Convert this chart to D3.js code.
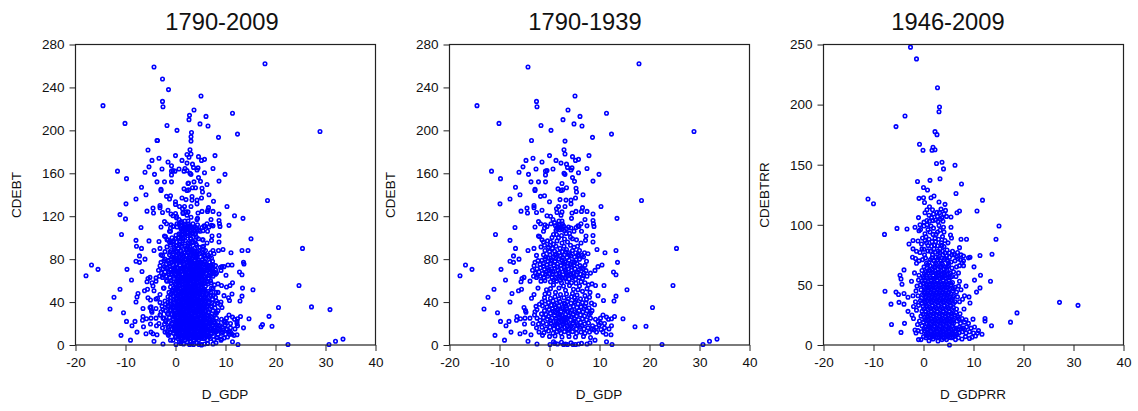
<!DOCTYPE html>
<html>
<head>
<meta charset="utf-8">
<script src="https://cdn.jsdelivr.net/npm/d3@7"></script>
<style>
body { margin: 0; background: white; }
text { font-family: "Liberation Sans", Arial, sans-serif; fill: #111; }
</style>
</head>
<body>
<svg id="drawing"></svg>
<script>
// d_gdp, cdebt
const earlyOutliers = [
[17.9,262],[-4.3,259],[5.1,232],[-14.5,223],[-2.6,227],[-2.5,222],[3.7,219],[11.4,216],[6.1,213],[2.7,210],
[-10.1,206.5],[4.9,206],[-1.7,204.5],[6.5,204],[0.3,200],[12.4,196.5],[28.9,199],[8.6,193.5],[-3.6,190.5],[3.1,190],
[2.9,182],[3.1,178],[7.9,176.5],[0,176.5],[4.6,175.5],[5.8,173],[5.2,172],[-3.3,174],[-4.7,172],[1.3,172],
[-1.5,170.5],[2.3,169.5],[3.4,168.5],[-5.3,166],[4.5,165],[7.5,164.5],[3.6,165.5],[0.7,164],[-2.7,164],[4.3,163],
[-0.8,162],[-0.5,162.5],[-11.6,162],[-6.1,161],[-4.2,159],[-0.8,158.5],[2.9,160],[3.1,159],[5.8,160.5],[9.9,159],
[4.6,156],[-9.8,155],[5,152.5],[8.7,152.7],[-3.7,152],[-2.2,152],[-0.8,152],[2.5,150.5],[-6.8,147],[3.4,146.5],
[5.3,146],[1.7,145.5],[2.3,144],[2.6,144.5],[-2.9,144],[-2.9,145],[5.4,142.5],[6.7,140],[-5.9,140],[-1.8,138.5],
[-1,139],[5.2,137],[-7.9,136],[2.1,135.5],[3.3,135],[4.3,135],[0,133.5],[-9.9,131.5],[4.3,131.5],[18.4,134.7],
[10.3,129],[-3.1,130],[-3.1,128],[3.1,129],[1.8,129],[6.6,128],[-4.5,127.5],[1.4,127],[-1.5,125.5],[-5.7,124.7],
[-4.4,123],[-2.6,123.5],[1.5,123.5],[2.5,124],[4.5,123],[5.3,124.5],[6.4,124.5],[7.5,124.5],[8.7,122],[-0.5,120.5],
[0.2,120],[2.3,121],[13.5,118],[4.4,118],[7.1,117],[8.7,116],[0.7,117],[-2.2,115],[2.5,115.5],[-1.8,113],
[6.3,113],[5.9,110.5],[-6.9,109.5],[-2.9,110],[8.8,113],[8.9,110.5],[7.5,111],[-0.5,110.5],[-10.8,103],[8.7,102],
[7.3,101.5],[-2.2,101.5],[-7.9,97.5],[8.7,96],[7.2,97.5],[-6.8,90],[-3.1,90],[9.5,89],[-4.3,88],[13.3,88],
[25.4,90],[11.1,86],[-2.6,83.5],[7.7,85],[-16.8,74.5],[-15.5,70.5],[-17.9,64.5],[-7.2,83],[-6.1,80],[-7.9,78],
[-7.2,77],[-2.9,77],[13.6,77],[10.5,74.5],[-9.7,70.5],[9.7,73],[9.1,69.5],[-6.7,68.5],[12.8,68],[13.3,65.5],
[8.2,67],[-5.1,63],[-5.5,62],[-8.8,60.5],[-5.7,59],[-3.9,59.5],[8.5,57],[9.2,55.5],[10.9,55.5],[24.7,55.5],
[-11.1,52],[15.5,51.5],[-5.6,52],[-6.2,50.5],[-2.3,53],[-7.5,48],[-12.3,44.5],[-3.6,43.5],[-3.1,47],[13.3,45.5],
[-7.9,40],[9.7,46],[12.9,41],[10.8,41.5],[20.6,35],[-13.1,33.5],[-5.1,35],[-10.4,30],[-4.7,30.5],[-4.8,32],
[-9.8,22],[-8.1,22],[-6.5,26.5],[-6.6,23],[-5.8,24.5],[-4.9,25],[-3.9,25],[13,26.5],[14.7,24.5],[17.1,17],
[19.3,17.5],[-8.7,18],[-7.7,12],[-5.9,10.5],[-4.9,12],[-10.9,9],[-5,19.5],[-3.7,9.5],[-9,4.5],[-4.3,3.5],
[-2.5,1],[11.4,3],[9.1,4.5],[12.5,0.5],[12.3,9.5],[12.4,18],[22.5,0.5],[30.7,0.5],[32,3.5],[33.5,5.5]
];

const earlyCore = [
[1.2,111],[1.5,108.5],[1.6,110],[1.9,112],[2.1,107.5],[2.3,110],[2.5,108],[2.8,111],[3,106.5],[1,114],
[1.9,115.5],[0.3,113],[-0.9,112],[-1,109],[3.8,110],[4.3,109],[5.3,109.5],[5.7,111],[4,104],[4.9,106],
[6.4,106],[1.4,103],[-1.2,106],[0.8,103],[2.4,102],[3.3,104],[-2,101],[-1.5,98],[-1.2,96],[-0.4,97],
[0.2,96],[0.8,94],[1.5,97],[2.5,95],[3.6,96],[4.6,99],[5.4,98],[6.3,95],[-1,93],[-0.2,91],
[0.6,90],[1.3,92],[2.1,90],[2.9,92],[3.4,89],[4.2,93],[4.9,91],[5.6,92],[-0.9,88],[0,87],
[1,87.5],[1.9,86],[2.6,87],[3.9,86],[4.6,88],[5.2,86],[6,88],[7,86],[6.5,83.5],[-1.2,84],
[-0.7,82],[0.1,84],[0.8,82],[1.4,84.5],[2.2,83],[3,84],[3.5,81.5],[4.3,83],[5,82],[5.7,84],
[-1.5,79],[-0.9,80],[-0.3,78],[0.5,79.5],[1.1,78],[1.8,80],[2.5,79],[3.1,77.5],[3.9,79],[4.6,77.5],
[5.3,79.5],[6,80],[6.8,82],[7.4,78],[-1.9,75],[-1.2,76],[-0.5,74.5],[0.2,76],[0.9,74],[1.6,75.5],
[2.3,74],[2.9,75.5],[3.6,73.5],[4.2,75],[4.9,74],[5.5,76],[-2.5,71],[-1.8,72],[-1,70.5],[-0.4,72],
[0.4,71],[1.1,71.5],[1.7,69.5],[2.4,71],[3.1,70],[3.8,71],[4.4,69.5],[5.1,71],[5.8,70],[6.4,72],
[-2.8,67],[-2.1,68],[-1.4,66.5],[-0.7,68],[0,66.5],[0.7,68],[1.4,66],[2,67.5],[2.7,65.5],[3.4,67],
[4,65.5],[4.7,67],[5.4,65.5],[6.2,66],[6.9,67],[7.5,64],[-2.6,63],[-1.9,64],[-1.1,62.5],[-0.4,64],
[0.5,63],[1.2,62],[1.8,64],[2.5,62.5],[3.2,63],[3.9,61.5],[4.6,63],[5.2,61],[5.9,63],[6.6,62],
[-1.7,59.5],[-0.9,60],[0.2,59],[1.4,59.5],[2.4,58],[3.5,59],[4.4,58],[5.3,57.5],[6.3,59],[7.1,58],
[7.8,56],[0.8,56],[2.8,55],[4,55.5],[6,55],[7.5,52.5],[-0.6,51.5],[0.2,52.5],[1.9,53],[3.2,51],
[4.8,52],[5.7,51.5],[6.6,50],[8.1,49],[-0.9,47.5],[-0.1,48],[1.2,49],[2.2,47],[3.4,47.5],[4.6,48],
[5.5,46.5],[7.1,46],[8,44.5],[-1,44],[0.2,43.5],[1.1,45],[1.9,43],[2.9,44],[3.8,43],[5,44],
[6.2,43],[7.4,42.5],[-1.5,40],[-0.9,41],[-0.2,39.5],[0.7,41],[1.4,39],[2.1,40.5],[2.9,39],[3.6,40.5],
[4.3,39],[5.1,40],[5.7,38.5],[6.6,39.5],[7.3,39],[8.4,39],[9,37.5],[-2.7,36],[-1.4,36.5],[-0.5,35.5],
[0.4,37],[1.2,35],[1.9,36.5],[2.6,35],[3.3,36.5],[4.1,35],[4.8,36],[5.5,35],[6.3,35.5],[7.1,36],
[7.9,34.5],[-2.5,33],[-1,32],[-0.1,33],[0.8,31.5],[1.5,32.5],[2.3,31],[3,32.5],[3.7,31],[4.4,32.5],
[5.1,31],[5.9,32],[6.7,31],[7.5,32],[8.5,32],[-3,28],[-1.6,29],[-0.7,28.5],[0.2,29.5],[1,28],
[1.8,29],[2.5,27.5],[3.2,28.5],[3.9,27],[4.7,28.5],[5.4,27],[6.2,28],[7,27],[7.9,28.5],[10.7,28],
[11.4,26],[-2.5,25],[-1.2,25.5],[-0.4,24],[0.5,25],[1.3,24],[2,25.5],[2.8,24],[3.5,25],[4.2,23.5],
[5,24.5],[5.8,23.5],[6.6,24.5],[7.4,23.5],[8.2,25],[9.2,24],[10.2,25],[11.8,24],[12.4,24.5],[-3.3,20],
[-2.2,19.5],[-1.3,21],[-0.6,19.5],[0.3,20.5],[1.1,19],[1.8,21],[2.6,19.5],[3.3,21],[4,19],[4.7,20.5],
[5.5,19],[6.2,21],[7,19.5],[7.8,20.5],[8.6,18],[9.7,22],[11,20],[-2.6,16],[-1.5,16.5],[-0.7,15],
[0.1,16.5],[0.9,15],[1.7,16.5],[2.4,15],[3.1,16.5],[3.9,15],[4.6,16.5],[5.4,15],[6.1,16.5],[6.9,15],
[7.7,16],[8.6,15],[9.4,16.5],[10.3,14.5],[11,16],[11.9,15],[-2.1,12],[-1.1,11.5],[-0.2,13],[0.7,11],
[1.5,12.5],[2.3,11],[3,12.5],[3.8,11],[4.6,12.5],[5.4,11],[6.3,12],[7.1,11],[8,12],[9.4,12],
[10.7,12],[11.3,10],[-1.4,9],[0,8],[1.1,8.5],[2.5,7.5],[3.9,8],[5.2,7.5],[6.8,8],[8.2,7],
[0.8,3],[1.6,1],[2.4,2.5],[3.2,1],[4.3,2],[5.2,0.5],[6.4,1.5],[7.5,1],[8.1,2],[0.1,0.5],
[2.8,0.5],[4.7,0.5],[1.1,1.5],[3.6,0.5],[5.8,1]
];

// second pass over the busy part of the same panel
const earlyDense = [
[0.3,78.3],[1.3,80.7],[2.9,72.6],[4.4,73.2],[-0.1,70.2],[1.9,66.8],[3.2,68.4],[5.6,68.1],[0.9,60.7],[2.2,60.4],
[3.1,62.1],[4.3,66.2],[-1.2,73.6],[-2.4,65.1],[0.6,66],[1.5,72.9],[2.7,76.8],[3.7,76.2],[5,77.1],[6.1,74],
[-0.3,81.2],[1.1,84],[2.6,81.5],[4,84.2],[-0.7,66],[0.3,68.8],[2.2,63.9],[3.6,64.6],[4.9,64.1],[6.8,64.7],
[1,37.7],[1.7,33.8],[2.1,28.6],[2.9,21.3],[3.3,23.2],[2.2,17.8],[1.3,22.3],[0.2,22.7],[1.8,26.6],[3.5,17.8],
[4.4,26.3],[4.1,30.2],[2.7,33.8],[3.1,38.2],[0.6,33.9],[4.9,22.4],[3.7,13.7],[2,13.9],[0.8,18.1],[5.7,17.9],
[6.5,18.2],[-0.2,26.7],[2.4,23],[3,26.1],[1.5,19.9],[2.5,21.6],[4.3,17.6],[1.1,30.3],[5.4,29.8],[3.4,33.7],
[1.8,110.3],[2.6,112.6],[2.1,109.2],[1.3,106.8],[3.4,108.2],[0.5,100.2],[1.8,99.9],[3,98.7],[4.2,100.4],[0.1,93],
[-1.7,91.4],[3.2,86.8],[5.9,83],[-2.3,78.6],[7.1,74.2],[6.7,71],[7.3,69.3],[-3.1,73.8],[-3.4,69.6],[-3.2,64.1],
[5.3,41.7],[4.4,44.9],[6.9,33.7],[8.2,29.9],[-2,38],[-1.9,23],[-2.9,31],[8.9,14],[9.9,18.5],[10.2,20.6]
];

// d_gdprr, cdebtrr
const lateOutliers = [
[-2.6,247.8],[-1.4,238],[2.8,214],[3.2,198],[3.1,194],[-3.7,190.5],[-5.5,181.7],[2.3,177.5],[2.7,175],[-0.8,167],
[1.9,164.5],[2.3,162.5],[1.7,162],[-0.1,162],[3.7,152],[2.6,151],[6.3,149.5],[4,146.5],[3.3,138.3],[1.3,137],
[-1.2,136],[7.6,134],[0,131],[0.8,129],[6.5,126],[2.1,124],[1.5,122.5],[0,122.5],[-0.9,122],[-11.1,121.5],
[-10,117.5],[11.8,120.5],[0.2,118.5],[3.1,119],[4.3,117],[10.7,111.5],[7.2,111.5],[6.7,110],[0.3,110],[1.2,115],
[0.7,112.5],[1.8,112.5],[3.5,113],[4.4,112],[-1,106],[5.5,106.5],[15.1,99],[-5.3,97],[-3.3,96.5],[-1.7,98],
[5.5,98],[-7.8,92],[5.4,91.5],[5.6,89],[14.5,88],[8.6,88],[7.5,88],[-1.1,86.5],[-2.1,87],[-2.9,84],
[-2.1,80],[-0.3,80],[7.2,81],[11.3,74.5],[13.7,75.5],[9.3,73],[9,72.5],[-2.2,73],[10.1,65],[-3.9,62.5],
[-4.7,58],[-4.5,55],[11.4,58],[10.2,54],[13.4,53],[-2.4,53],[-4.3,50.5],[11.3,47.5],[10.6,44],[-7.7,44.7],
[-5.5,44],[-5,42],[-3.9,42.8],[-3.1,39.7],[-4.9,35.5],[-6.5,34],[-3.9,34],[9.3,35],[9.1,40],[27.2,35.5],
[30.9,33],[18.7,26.7],[-3.1,28],[8.1,30],[-2.3,25],[-2,22],[12.3,22],[12.3,20],[9.9,21.5],[17.4,19],
[-6.4,17],[-3.8,18],[13.6,16],[-4.5,10.5],[-1.7,12.5],[-1.5,10],[-1,4.5],[-0.5,4.5],[1.1,3.5],[2.9,3.3],
[5.2,0],[11.7,9],[11,12]
];

const lateCore = [
[1.1,108],[1.6,106],[2,109],[2.4,104],[2.8,107],[3.2,110],[3.7,106],[4.1,109],[4.6,107],[1.2,103],
[0.7,100],[1.5,99],[0.1,99],[-0.7,100],[-0.9,95],[-0.6,96],[0.9,96],[2.8,94],[3.3,95.5],[4.1,94],
[4,98],[1.9,92],[2.5,92],[0.5,90],[-0.2,89],[0.3,87],[1.1,88],[1.7,86],[2.4,86],[3,88],
[3.6,85],[4.3,87],[2.2,83],[0.6,85],[4.1,82],[3.3,80],[2.1,80],[1.4,78],[2.9,78],[3.8,78],
[4.7,79],[5.8,78],[6.8,77],[7.5,75],[8,74],[-1.4,78],[-0.7,77],[0.2,75],[-1.6,72],[1.8,75],
[2.5,73],[3.2,74],[3.9,75],[4.6,74],[5.2,73],[5.7,75],[-0.9,70],[-0.2,71],[-1.4,68],[0.6,68],
[1.4,71],[2.1,70],[2.8,71],[3.4,70],[4.1,71],[4.8,70],[5.5,69],[6.3,70],[8,70],[8,66],
[7.2,66],[6.6,65],[0.1,65],[0.7,64],[1.3,66],[2,65],[2.6,67],[3.2,65],[3.8,67],[4.4,65],
[5,66],[5.7,64],[-0.3,62],[0.4,61],[1,62],[1.6,60],[2.3,62],[2.9,60],[3.5,62],[4.1,60],
[4.7,62],[5.3,60],[6,61],[7,60],[-1.8,60],[-0.9,58],[-0.1,57],[0.6,58],[1.3,56],[1.9,58],
[2.5,56],[3.1,58],[3.7,56],[4.3,58],[5,56],[5.7,57],[6.5,57],[-1,54],[-0.3,53],[0.3,54],
[0.9,52],[1.5,54],[2.1,52],[2.7,54],[3.3,52],[3.9,54],[4.5,52],[5.1,54],[5.8,52],[7.2,53],
[-1.3,49],[-0.6,50],[0.1,48],[0.7,50],[1.3,48],[1.9,50],[2.5,48],[3.1,50],[3.7,48],[4.3,50],
[4.9,48],[5.5,50],[6.3,48],[7,49],[8.5,49],[-1.5,45],[-0.5,46],[0.3,44],[0.9,46],[1.5,44],
[2.1,46],[2.7,44],[3.3,46],[3.9,44],[4.5,46],[5.1,44],[5.8,45],[6.6,44],[7.5,46],[8.2,41],
[-2.1,41],[-1.1,41],[-0.2,42],[0.5,40],[1.1,42],[1.7,40],[2.3,42],[2.9,40],[3.5,42],[4.1,40],
[4.7,42],[5.3,40],[6,41],[6.8,40],[7.8,38],[-1.6,36],[-0.6,37],[0.2,36],[0.8,38],[1.4,36],
[2,38],[2.6,36],[3.2,38],[3.8,36],[4.4,38],[5,36],[5.6,38],[6.3,36],[7.2,36],[-2,32],
[-1,33],[-0.1,32],[0.6,33],[1.2,31],[1.8,33],[2.4,31],[3,33],[3.6,31],[4.2,33],[4.8,31],
[5.4,33],[6,31],[6.6,30],[-1.4,29],[-0.3,28],[0.4,28],[1,26],[1.6,28],[2.2,26],[2.8,28],
[3.4,26],[4,28],[4.6,26],[5.2,28],[5.8,26],[6.5,27],[7.3,26],[-0.5,24],[0.2,23],[0.8,24],
[1.4,22],[2,24],[2.6,22],[3.2,24],[3.8,22],[4.4,24],[5,22],[5.6,24],[6.2,22],[6.9,23],
[7.7,22],[8.5,21],[-0.8,20],[0,19],[0.6,20],[1.2,18],[1.8,20],[2.4,18],[3,20],[3.6,18],
[4.2,20],[4.8,18],[5.4,20],[6,18],[6.7,20],[7.4,18],[8.2,19],[9,18],[-1.2,17],[-0.3,16],
[0.4,15],[1,16],[1.6,14],[2.2,16],[2.8,14],[3.4,16],[4,14],[4.6,16],[5.2,14],[5.8,16],
[6.5,14],[7.2,15],[7.9,14],[8.6,15],[9.5,14],[10.2,15],[-1.1,12],[-0.4,11],[0.2,12],[0.9,10],
[1.5,12],[2.1,10],[2.7,12],[3.3,10],[3.9,12],[4.5,10],[5.1,12],[5.7,10],[6.4,12],[7.1,10],
[7.8,11],[8.5,10],[9.2,11],[10,10],[10.8,10],[0,7],[0.7,8],[1.4,6],[2.1,8],[2.8,6],
[3.5,8],[4.2,6],[4.9,8],[5.6,6],[6.3,8],[7,6],[7.7,5],[8.4,7],[9.2,5.5],[9.7,6.5],
[10.4,7.5],[3.7,4.5],[4.6,4.5],[6.4,4.5],[1.9,5]
];

// second pass over the solid part of the same panel
const lateDense = [
[0.4,72.3],[1.1,68.7],[1.7,72.6],[2.4,68.3],[3,72.8],[3.6,68.1],[4.3,72.2],[5,68.4],[0.8,66.6],[1.7,63.1],
[2.3,64.6],[2.9,63.2],[3.5,64.8],[4.1,63.1],[4.8,64.9],[0.2,59.4],[0.9,59.8],[1.3,61.7],[2,60.5],[2.6,59.3],
[3.2,60.6],[3.8,58.9],[4.4,61.1],[5,59.1],[0.1,55.7],[0.6,55.9],[1.6,55.7],[2.2,55.2],[2.8,57.4],[3.4,55.4],
[4,57.2],[4.6,55.6],[5.4,56.3],[-0.1,51.4],[0.6,50.9],[1.2,50.6],[1.8,51.3],[2.4,50.7],[3,51.3],[3.6,50.6],
[4.2,51.2],[4.8,50.4],[5.4,51.6],[0.4,47.1],[1,47.3],[1.6,46.7],[2.2,47.5],[2.8,46.6],[3.4,47.3],[4,46.8],
[4.6,47.6],[5.2,46.7],[6,47],[0.1,43],[0.7,43.1],[1.3,43.2],[1.9,42.8],[2.5,43.4],[3.1,43],[3.7,43.4],
[4.3,42.9],[4.9,43.5],[5.5,42.6],[-0.4,38.9],[0.4,38.7],[1,39.2],[1.6,38.6],[2.2,39.4],[2.8,38.6],[3.4,39.3],
[4,38.7],[4.6,39.4],[5.2,38.6],[5.9,39.5],[-0.3,34.9],[0.4,34.6],[1.1,34.5],[1.7,35.2],[2.3,34.4],[2.9,35],
[3.5,34.6],[4.1,35.2],[4.7,34.4],[5.3,35],[6,34.6],[0.1,30.1],[0.9,29.6],[1.5,30.2],[2.1,29.4],[2.7,30.1],
[3.3,29.5],[3.9,30.2],[4.5,29.4],[5.1,30.1],[5.7,29.5],[-0.1,25.7],[0.5,25.6],[1.2,24.8],[1.9,25.9],[2.5,25],
[3.1,25.8],[3.7,24.9],[4.3,25.8],[4.9,25],[5.5,25.7],[6.2,25.1],[0.3,21.1],[1,20.9],[1.6,21.5],[2.3,20.7],
[2.9,21.4],[3.5,20.6],[4.1,21.4],[4.7,20.6],[5.3,21.5],[6,20.8],[7.1,21.7],[0.7,17.7],[1.4,17.2],[2.1,18],
[2.7,17.3],[3.3,18.1],[3.9,17.2],[4.5,18.1],[5.1,17.3],[5.7,18.2],[0.1,13.6],[0.7,13.3],[1.2,13.9],[1.9,13],
[2.5,13.7],[3.1,13.1],[3.7,13.8],[4.3,13.1],[4.9,13.8],[5.5,13],[6.1,13.6],[6.9,13.2],[7.5,13.6],[8.2,12.8],
[0.5,9],[1.2,9.3],[1.8,8.9],[2.4,9.6],[3,9],[3.6,9.7],[4.2,8.9],[4.8,9.6],[5.4,8.8],[6,9.4],
[6.7,8.9],[0.5,6.1],[1.1,6.5],[1.7,6.9],[2.4,6.4],[3.1,7.1],[3.9,6.3],[4.5,6.8],[5.2,6.2],[5.9,7.1],
[2.7,110.3],[1.9,103.5],[2.9,102.8],[3.4,104.6],[3.9,102.9],[0.7,103.6],[0.1,102.2],[2,97.2],[3.1,99.4],[1.3,94],
[0.3,92.6],[2.3,88.7],[3.8,90.2],[4.9,85],[0.9,82.7],[1.6,82.1],[2.8,82.6],[3.7,83],[-0.4,84],[0.1,79.6],
[0.9,78.3],[2.4,77.2],[3.3,77],[4.3,76.6],[5.2,76.5],[6.2,75.1],[6.6,73.6],[6.9,71.8],[7.4,70.9],[7.7,68.3]
];

const early = earlyOutliers.concat(earlyCore, earlyDense);
const late = lateOutliers.concat(lateCore, lateDense);
const all = early.concat(late);

const xTicks = [-20, -10, 0, 10, 20, 30, 40];
const debtTicks = [0, 40, 80, 120, 160, 200, 240, 280];
const debtRrTicks = [0, 50, 100, 150, 200, 250];

const panels = [
    { title: "1790-2009", points: all, yTicks: debtTicks, yMax: 280, xName: "D_GDP", yName: "CDEBT",
      left: 75.5, titleX: 222, xNameX: 225, yNameX: 16 },
    { title: "1790-1939", points: early, yTicks: debtTicks, yMax: 280, xName: "D_GDP", yName: "CDEBT",
      left: 449.5, titleX: 585, xNameX: 599, yNameX: 390 },
    { title: "1946-2009", points: late, yTicks: debtRrTicks, yMax: 250, xName: "D_GDPRR", yName: "CDEBTRR",
      left: 823.5, titleX: 948, xNameX: 973, yNameX: 764 }
];

const svg = d3.select("#drawing")
    .attr("width", 1138)
    .attr("height", 411)
    .style("display", "block");

const plotW = 300, plotH = 300.5, plotTop = 44.5;

panels.forEach(p => {
    const x = d3.scaleLinear().domain([-20, 40]).range([p.left, p.left + plotW]);
    const y = d3.scaleLinear().domain([0, p.yMax]).range([plotTop + plotH, plotTop]);

    svg.append("g")
        .selectAll("circle")
        .data(p.points)
        .join("circle")
        .attr("cx", d => x(d[0]))
        .attr("cy", d => y(d[1]))
        .attr("r", 1.75)
        .attr("fill", "none")
        .attr("stroke", "#0000ff")
        .attr("stroke-width", 1.6);

    svg.append("rect")
        .attr("x", p.left)
        .attr("y", plotTop)
        .attr("width", plotW)
        .attr("height", plotH)
        .attr("fill", "none")
        .attr("stroke", "#222")
        .attr("stroke-width", 1.2);

    const xAxis = svg.append("g")
        .attr("transform", `translate(0, ${plotTop + plotH})`)
        .call(d3.axisBottom(x).tickValues(xTicks).tickFormat(d => String(d)).tickSize(6).tickPadding(6));
    const yAxis = svg.append("g")
        .attr("transform", `translate(${p.left}, 0)`)
        .call(d3.axisLeft(y).tickValues(p.yTicks).tickFormat(d => String(d)).tickSize(6).tickPadding(5));

    [xAxis, yAxis].forEach(a => {
        a.select(".domain").remove();
        a.selectAll("line").attr("stroke", "#222").attr("stroke-width", 1);
        a.selectAll("text").style("font-size", "13.5px").attr("fill", "#111");
    });

    svg.append("text")
        .attr("x", p.titleX)
        .attr("y", 30)
        .attr("text-anchor", "middle")
        .style("font-size", "23.7px")
        .text(p.title);

    svg.append("text")
        .attr("x", p.xNameX)
        .attr("y", 399)
        .attr("text-anchor", "middle")
        .style("font-size", "13.5px")
        .text(p.xName);

    svg.append("text")
        .attr("transform", `translate(${p.yNameX + 5}, 195) rotate(-90)`)
        .attr("text-anchor", "middle")
        .style("font-size", "13.5px")
        .text(p.yName);
});
</script>
</body>
</html>
